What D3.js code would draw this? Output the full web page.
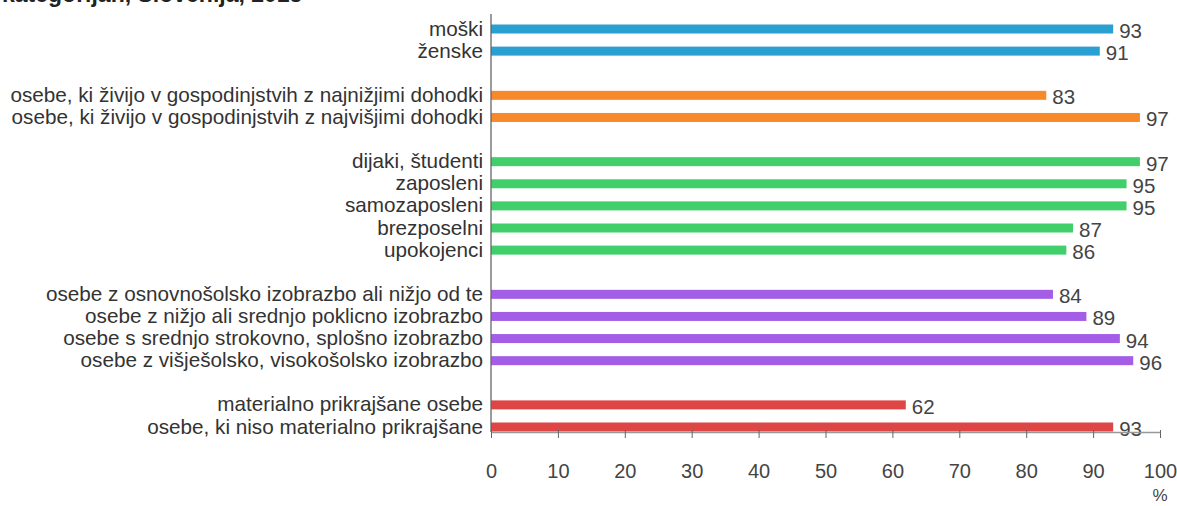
<!DOCTYPE html>
<html><head><meta charset="utf-8">
<script src="https://cdn.jsdelivr.net/npm/d3@7"></script>
<style>body{margin:0;background:#fff}svg{display:block}text{font-family:"Liberation Sans",Arial,sans-serif}</style>
</head><body>
<svg id="c" width="1177" height="506"></svg>
<script>
const title = "kategorijah, Slovenija, 2015";
const categories = [
  "moški","ženske",
  "osebe, ki živijo v gospodinjstvih z najnižjimi dohodki","osebe, ki živijo v gospodinjstvih z najvišjimi dohodki",
  "dijaki, študenti","zaposleni","samozaposleni","brezposelni","upokojenci",
  "osebe z osnovnošolsko izobrazbo ali nižjo od te","osebe z nižjo ali srednjo poklicno izobrazbo","osebe s srednjo strokovno, splošno izobrazbo","osebe z višješolsko, visokošolsko izobrazbo",
  "materialno prikrajšane osebe","osebe, ki niso materialno prikrajšane"
];
const values = [93,91, 83,97, 97,95,95,87,86, 84,89,94,96, 62,93];
const groups = [0,0, 1,1, 2,2,2,2,2, 3,3,3,3, 4,4];
const groupColors = ["#2a9fd1","#f7892a","#41cf6c","#a35de6","#de4646"];
const ticks = [0,10,20,30,40,50,60,70,80,90,100];
const unit = "%";

const svg = d3.select("#c");
const slots = [];
categories.forEach((c,i)=>{ if(i>0 && groups[i]!==groups[i-1]) slots.push("gap"+i); slots.push(c); });
const x = d3.scaleLinear().domain([0,100]).range([491,1160]);
const y = d3.scalePoint().domain(slots).range([29,427]);

svg.append("text").attr("x",2).attr("y",2).attr("font-size",23).attr("font-weight","bold").attr("fill","#222").text(title);

svg.selectAll("rect.bar").data(categories).join("rect")
  .attr("x",x(0)).attr("y",d=>y(d)-4.5).attr("height",9)
  .attr("width",(d,i)=>x(values[i])-x(0)).attr("fill",(d,i)=>groupColors[groups[i]]);
svg.selectAll("text.val").data(categories).join("text")
  .attr("x",(d,i)=>x(values[i])+6).attr("y",d=>y(d)+9).attr("font-size",20.5).attr("fill","#444")
  .text((d,i)=>values[i]);
svg.selectAll("text.cat").data(categories).join("text")
  .attr("x",483).attr("y",d=>y(d)+6.5).attr("text-anchor","end").attr("font-size",20.7).attr("fill","#333")
  .text(d=>d);
svg.append("line").attr("x1",x(0)).attr("x2",x(0)).attr("y1",14).attr("y2",432).attr("stroke","#666").attr("stroke-width",1.3);
const ax = svg.append("g").attr("transform","translate(0,432)")
  .call(d3.axisBottom(x).tickValues(ticks).tickSize(6).tickSizeOuter(0).tickPadding(26));
ax.select(".domain").attr("stroke","#999").attr("stroke-width",1.3);
ax.selectAll(".tick line").attr("stroke","#666").attr("y1",-2);
ax.selectAll(".tick text").attr("font-size",20).attr("fill","#444").attr("font-family","'Liberation Sans Narrow', 'Liberation Sans', Arial, sans-serif");
svg.append("text").attr("x",x(100)).attr("y",501).attr("text-anchor","middle").attr("font-size",17).attr("fill","#444")
  .attr("font-family","'Liberation Sans Narrow', 'Liberation Sans', Arial, sans-serif").text(unit);
</script>
</body></html>
